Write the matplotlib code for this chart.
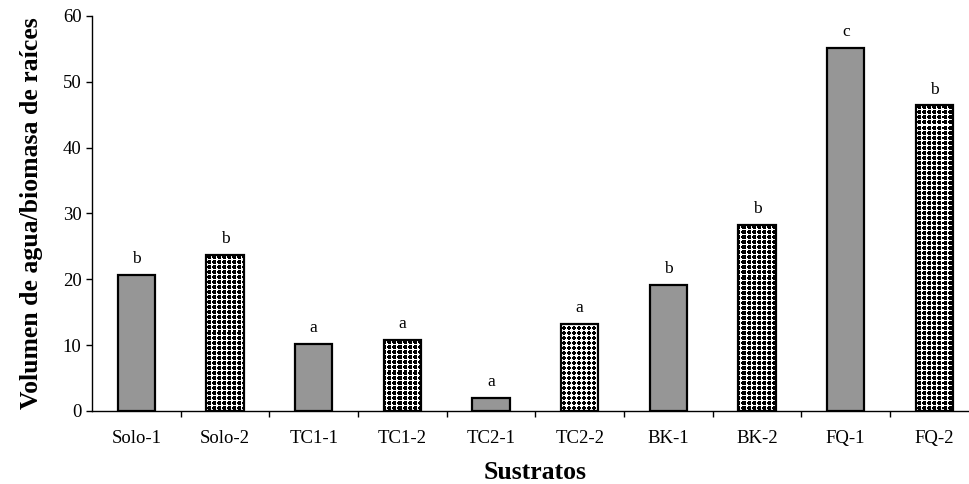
import matplotlib
matplotlib.use("Agg")
import matplotlib.pyplot as plt
import numpy as np
from matplotlib.ticker import MultipleLocator, FixedLocator

plt.rcParams["font.family"] = ["Liberation Serif", "DejaVu Serif"]

sustratos = ["Solo-1", "Solo-2", "TC1-1", "TC1-2", "TC2-1",
             "TC2-2", "BK-1", "BK-2", "FQ-1", "FQ-2"]
volumen = [20.7, 23.7, 10.2, 10.8, 2.0, 13.2, 19.1, 28.3, 55.2, 46.4]
letras = ["b", "b", "a", "a", "a", "a", "b", "b", "c", "b"]

# 5 px cells of the dot screens (1 = black)
celda_densa = np.array([
    [0, 1, 1, 1, 0],
    [1, 1, 1, 1, 0],
    [1, 1, 1, 1, 0],
    [0, 1, 1, 1, 0],
    [0, 0, 0, 0, 0],
])
celda_clara = np.array([
    [0, 1, 1, 0, 0],
    [1, 1, 1, 1, 0],
    [1, 1, 1, 1, 0],
    [0, 1, 1, 0, 0],
    [0, 0, 0, 0, 0],
])

fig = plt.figure(figsize=(9.69, 4.84), dpi=100)
ax = fig.add_axes([0.095, 0.151, 0.915, 0.816])
ax.set_xlim(-0.5, 9.5)
ax.set_ylim(0, 60)
ax.set_autoscale_on(False)

x = list(range(len(sustratos)))
bars = []
for i, (v, l) in enumerate(zip(volumen, letras)):
    face = "#969696" if i % 2 == 0 else "white"
    b = ax.bar(i, v, width=0.42, color=face, edgecolor="none", zorder=2)[0]
    bars.append(b)
    ax.bar(i, v, width=0.42, fill=False, edgecolor="black", linewidth=1.6, zorder=4)
    ax.text(i, v + 1.2, l, ha="center", va="bottom", fontsize=12.5)

# dotted screen for the second treatment, drawn pixel for pixel over the axes
fig.canvas.draw()
bb = ax.get_window_extent()
h, w = int(round(bb.height)), int(round(bb.width))
reps = (h // 5 + 2, w // 5 + 2)
for i, b in enumerate(bars):
    if i % 2 == 1:
        celda = celda_clara if sustratos[i] == "TC2-2" else celda_densa
        screen = np.tile(celda, reps)[:h, :w]
        im = ax.imshow(1 - screen, cmap="gray", vmin=0, vmax=1,
                       extent=(-0.5, 9.5, 0, 60), aspect="auto",
                       interpolation="nearest", zorder=3)
        im.set_clip_path(b)

ax.yaxis.set_major_locator(MultipleLocator(10))
ax.set_xticks(x)
ax.set_xticklabels(sustratos, fontsize=13.5)
ax.xaxis.set_minor_locator(FixedLocator([k + 0.5 for k in range(9)]))
ax.tick_params(axis="x", which="major", length=0, pad=14)
ax.tick_params(axis="x", which="minor", length=4, direction="out", width=1)
ax.tick_params(axis="y", length=4, direction="out", labelsize=13.5, width=1)

for side in ("top", "right"):
    ax.spines[side].set_visible(False)
ax.spines["left"].set_linewidth(1)
ax.spines["bottom"].set_linewidth(1)

ax.set_xlabel("Sustratos", fontsize=18.5, fontweight="bold", labelpad=10)
ax.set_ylabel("Volumen de agua/biomasa de raíces", fontsize=18.5,
              fontweight="bold", labelpad=14)

fig.savefig("out.png", dpi=100)
